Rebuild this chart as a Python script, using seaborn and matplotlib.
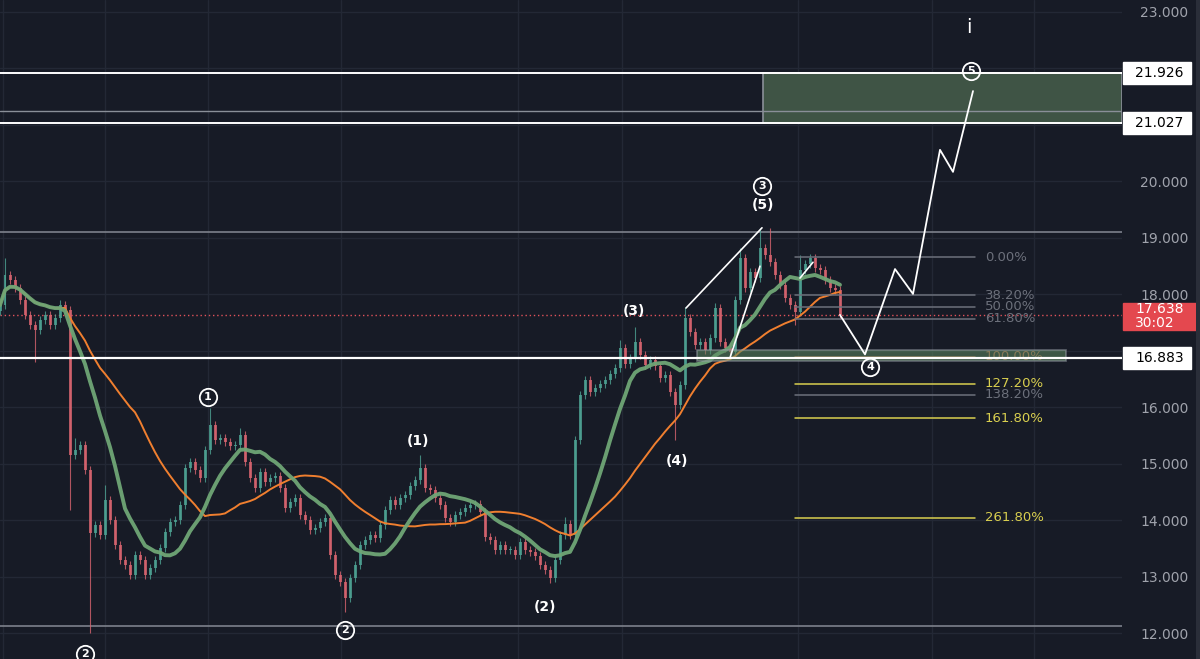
import numpy as np
import pandas as pd
import seaborn as sns
import matplotlib.pyplot as plt
from matplotlib.patches import Rectangle

# candle closes, one bar per 5 px of the chart
closes = [
    17.81, 18.34, 18.26, 18.12, 17.90, 17.63, 17.46, 17.37, 17.55, 17.63,
    17.46, 17.58, 17.81, 17.73, 15.16, 15.25, 15.34, 14.89, 13.78, 13.92,
    13.74, 14.36, 14.01, 13.57, 13.30, 13.21, 13.04, 13.39, 13.30, 13.04,
    13.16, 13.30, 13.51, 13.80, 13.97, 14.01, 14.27, 14.93, 15.03, 14.89,
    14.75, 15.25, 15.69, 15.42, 15.46, 15.39, 15.32, 15.34, 15.51, 15.03,
    14.75, 14.57, 14.86, 14.68, 14.75, 14.78, 14.57, 14.22, 14.33, 14.40,
    14.10, 14.01, 13.83, 13.87, 13.97, 14.04, 13.39, 13.04, 12.91, 12.63,
    12.98, 13.21, 13.57, 13.65, 13.74, 13.69, 13.92, 14.19, 14.36, 14.27,
    14.40, 14.45, 14.61, 14.72, 14.93, 14.57, 14.54, 14.40, 14.27, 14.04,
    13.97, 14.10, 14.15, 14.22, 14.27, 14.29, 14.15, 13.71, 13.65, 13.48,
    13.57, 13.48, 13.48, 13.39, 13.62, 13.48, 13.44, 13.37, 13.21, 13.12,
    12.98, 13.30, 13.74, 13.94, 13.74, 15.42, 16.22, 16.49, 16.27, 16.35,
    16.42, 16.49, 16.59, 16.70, 17.05, 16.77, 16.88, 17.16, 16.93, 16.75,
    16.84, 16.73, 16.52, 16.58, 16.27, 16.04, 16.40, 17.58, 17.34, 17.11,
    17.16, 17.02, 17.23, 17.76, 17.16, 17.05, 16.98, 17.90, 18.65, 18.12,
    18.40, 18.29, 18.82, 18.70, 18.58, 18.34, 18.17, 17.94, 17.81, 17.69,
    18.43, 18.54, 18.65, 18.47, 18.43, 18.26, 18.12, 18.08, 17.638,
]
first_open = 17.70

# long wicks that stand out
spike_bars = [1, 7, 12, 14, 15, 18, 21, 42, 48, 69, 84, 110, 113, 115,
              124, 127, 135, 137, 143, 148, 152, 154, 159, 160]
spike_prices = [18.65, 16.80, 17.90, 14.19, 15.46, 12.00, 14.62, 15.99, 15.64, 12.38,
                15.16, 12.89, 14.06, 13.65, 17.19, 17.42, 15.42, 17.78, 17.85, 18.82,
                19.18, 19.18, 17.46, 18.70]

# horizontal levels
zone_top, zone_bottom, zone_mid = 21.926, 21.027, 21.25
support = 16.883
last_price, countdown = 17.638, "30:02"
upper_ray, lower_ray = 19.10, 12.13
fib_start, fib_end = 18.66, 16.90
fib_ratios = [0.0, 0.382, 0.5, 0.618, 1.0, 1.272, 1.382, 1.618, 2.618]
fib_labels = ["0.00%", "38.20%", "50.00%", "61.80%", "100.00%",
              "127.20%", "138.20%", "161.80%", "261.80%"]
fib_colors = ["#6c707b", "#6c707b", "#6c707b", "#6c707b", "#b8654c",
              "#d9cf4f", "#6c707b", "#d9cf4f", "#d9cf4f"]

# price scale ticks (the ones hidden behind tags are left out)
price_ticks = [12, 13, 14, 15, 16, 18, 19, 20, 23]

# projected path and wave drawings (bar, price)
proj_bars = [168, 173, 179, 182.6, 188, 190.6, 194.6]
proj_prices = [17.638, 16.94, 18.45, 18.01, 20.56, 20.17, 21.60]
wave_lines = [([137.2, 152.4], [17.76, 19.18]),
              ([146, 152], [16.88, 18.50]),
              ([160, 162.6], [18.29, 18.57])]

circled = [("1", 41.6, 16.19), ("2", 69, 12.06), ("2", 17, 11.63),
           ("3", 152.4, 19.92), ("4", 174, 16.72), ("5", 194.2, 21.955)]
plain = [("(5)", 152.6, 19.58), ("(3)", 126.8, 17.71), ("(4)", 135.4, 15.05),
         ("(1)", 83.6, 15.41), ("(2)", 109, 12.47)]

bg = "#171b26"
sns.set_theme(style="dark", rc={"axes.facecolor": bg, "figure.facecolor": bg})
plt.rcParams["font.family"] = ["DejaVu Sans"]

fig = plt.figure(figsize=(12, 6.59), dpi=100)
ax = fig.add_axes([0, 0, 1122 / 1200, 1])
ax.set_xlim(0, 224.4)
ax.set_ylim(11.548, 23.212)
for s in ax.spines.values():
    s.set_visible(False)

# right edge strip of the price scale
fig.patches.append(Rectangle((1196 / 1200, 0), 4 / 1200, 1, transform=fig.transFigure,
                             fc="#2a2e39", ec="none"))

# grid
ax.set_yticks(np.arange(12, 24, 1))
ax.set_yticklabels([f"{v:.3f}" if v in price_ticks else "" for v in np.arange(12, 24, 1)])
ax.yaxis.tick_right()
ax.tick_params(axis="y", length=0, pad=13, labelsize=10, labelcolor="#a0a3ac")
ax.set_xticks([])
ax.grid(axis="y", color="#232835", lw=1)
for gx in [0.6, 21, 41.6, 68.2, 103.6, 124.4, 159.6, 186.4, 206.8]:
    ax.axvline(gx, color="#232835", lw=1, zorder=0)

# candles
bars = np.arange(len(closes))
opens = [first_open] + closes[:-1]
highs = [max(o, c) + 0.07 for o, c in zip(opens, closes)]
lows = [min(o, c) - 0.07 for o, c in zip(opens, closes)]
for b, p in zip(spike_bars, spike_prices):
    if p > closes[b]:
        highs[b] = p
    else:
        lows[b] = p
up_c, dn_c = "#4ea394", "#d9646f"
for i in bars:
    col = up_c if closes[i] >= opens[i] else dn_c
    ax.vlines(i, lows[i], highs[i], color=col, lw=0.8, alpha=0.8, zorder=2)
    ax.add_patch(Rectangle((i - 0.3, min(opens[i], closes[i])), 0.6,
                           max(abs(closes[i] - opens[i]), 0.02),
                           color=col, alpha=0.82, lw=0, zorder=2))

# moving averages
df = pd.DataFrame({"bar": bars, "close": closes})
df["fast"] = df["close"].rolling(12, min_periods=1).mean()
df["slow"] = df["close"].rolling(28, min_periods=1).mean()
sns.lineplot(data=df, x="bar", y="slow", color="#f07f2f", lw=1.4, ax=ax, zorder=3)
sns.lineplot(data=df, x="bar", y="fast", color="#6fa676", lw=2.8, alpha=0.95, ax=ax, zorder=3)
ax.set_xlabel("")
ax.set_ylabel("")

# levels
ax.add_patch(Rectangle((152.6, zone_bottom), 224.4 - 152.6, zone_top - zone_bottom,
                       fc="#3f5445", ec="#8a8f98", lw=1.2, zorder=1))
ax.axhline(zone_top, color="white", lw=1.4, zorder=4)
ax.axhline(zone_bottom, color="white", lw=1.4, zorder=4)
ax.axhline(zone_mid, color="#8a8f98", lw=1.0, zorder=4)
ax.axhline(upper_ray, color="#7d818b", lw=1.2, zorder=1)
ax.axhline(lower_ray, color="#7d818b", lw=1.2, zorder=1)
ax.axhline(last_price, color="#e0525a", lw=1, ls=(0, (1, 2)), zorder=1)

for r, lab, col in zip(fib_ratios, fib_labels, fib_colors):
    lvl = fib_start - r * (fib_start - fib_end)
    ax.plot([159, 195], [lvl, lvl], color=col, lw=1.1, zorder=4)
    ax.text(197, lvl, lab, color=col, fontsize=9.5, va="center", ha="left", zorder=5)
ax.add_patch(Rectangle((139.4, 16.82), 213.2 - 139.4, 0.20,
                       fc="#5d8a62", alpha=0.55, ec="#9aa0a8", lw=1.2, zorder=5))
ax.axhline(support, color="white", lw=1.6, zorder=6)

# wave drawings
ax.plot(proj_bars, proj_prices, color="white", lw=1.3, zorder=7)
for xs, ys in wave_lines:
    ax.plot(xs, ys, color="white", lw=1.2, zorder=7)
for t, x, y in circled:
    ax.plot(x, y, marker="o", ms=12.5, mfc="none", mec="white", mew=1.3, zorder=8)
    ax.text(x, y, t, color="white", fontsize=8, fontweight="bold",
            ha="center", va="center", zorder=8)
for t, x, y in plain:
    ax.text(x, y, t, color="white", fontsize=10, fontweight="bold",
            ha="center", va="center", zorder=8)
ax.text(193.8, 22.73, "i", color="white", fontsize=14, ha="center", va="center")

# price scale tags
for v in [zone_top, zone_bottom, support]:
    ax.add_patch(Rectangle((224.6, v - 0.195), 13.6, 0.39, fc="white", ec="white",
                           clip_on=False, zorder=10))
    ax.text(227, v, f"{v:.3f}", color="black", fontsize=10, va="center",
            ha="left", clip_on=False, zorder=11)
ax.add_patch(Rectangle((224.6, 17.37), 14.6, 0.48, fc="#e4484f", ec="#e4484f",
                       clip_on=False, zorder=10))
ax.text(227, 17.74, f"{last_price:.3f}", color="white", fontsize=10, va="center",
        ha="left", clip_on=False, zorder=11)
ax.text(227, 17.49, countdown, color="white", fontsize=10, va="center",
        ha="left", clip_on=False, zorder=11)

fig.savefig("out.png", dpi=100, facecolor=bg)
